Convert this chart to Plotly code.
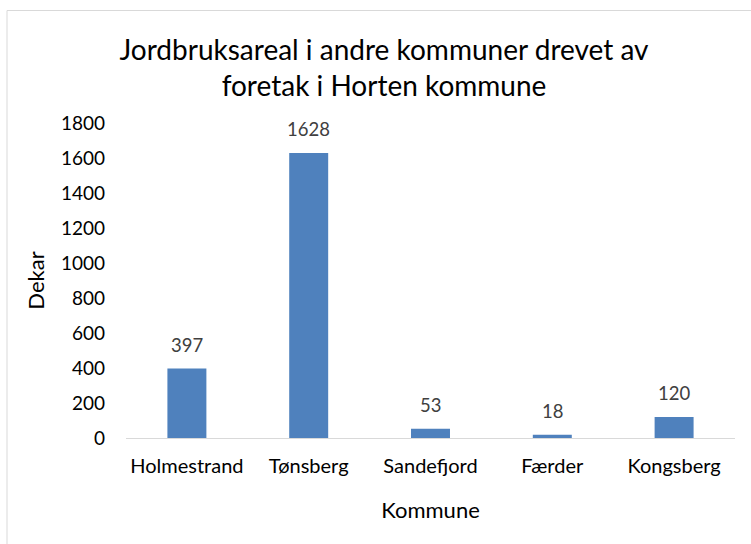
import plotly.graph_objects as go

categories = ["Holmestrand", "Tønsberg", "Sandefjord", "Færder", "Kongsberg"]
values = [397, 1628, 53, 18, 120]
y_ticks = [0, 200, 400, 600, 800, 1000, 1200, 1400, 1600, 1800]

FONT = "Lato"
W, H = 751, 544
L, R, T, B = 126, 16, 123, 106
pw = W - L - R
ph = H - T - B

fig = go.Figure(go.Bar(
    x=categories, y=values,
    marker=dict(color="#4f81bd", line=dict(width=0)),
    cliponaxis=False,
    hoverinfo="skip",
))

for c, v in zip(categories, values):
    fig.add_annotation(
        x=c, y=v, text=str(v), showarrow=False,
        xref="x", yref="y", yanchor="middle", yshift=24,
        font=dict(family=FONT, size=18.5, color="#404040"),
    )

fig.update_layout(
    width=W, height=H,
    margin=dict(l=L, r=R, t=T, b=B),
    paper_bgcolor="white", plot_bgcolor="white",
    bargap=0.68,
    showlegend=False,
    title=dict(
        text="Jordbruksareal i andre kommuner drevet av<br>foretak i Horten kommune",
        x=384 / W, xref="container", xanchor="center",
        y=1 - 60 / H, yref="container", yanchor="middle",
        font=dict(family=FONT, size=28, color="#000000"),
    ),
    font=dict(family=FONT, color="#000000"),
    xaxis=dict(
        showline=True, linecolor="#d9d9d9", linewidth=1,
        showgrid=False, ticks="",
        tickfont=dict(family=FONT, size=20, color="#000000"),
        ticklabelstandoff=10,
        title=dict(text="Kommune", font=dict(family=FONT, size=22, color="#000000"), standoff=26),
    ),
    yaxis=dict(
        range=[0, 1800], tickvals=y_ticks,
        showgrid=False, zeroline=False, showline=False, ticks="",
        tickfont=dict(family=FONT, size=19, color="#000000"),
        ticklabelstandoff=20,
        title=dict(text="Dekar", font=dict(family=FONT, size=22, color="#000000"), standoff=10),
    ),
    shapes=[dict(
        type="rect", xref="paper", yref="paper",
        x0=(7 - L) / pw, x1=(W + 10 - L) / pw,
        y0=(H - B - (H + 10)) / ph, y1=(H - B - 10.5) / ph,
        line=dict(color="#d9d9d9", width=1), fillcolor="rgba(0,0,0,0)",
        layer="below",
    )],
)

fig.write_html("out.html", config={"displayModeBar": False},
               post_script="document.body.style.margin='0';")
